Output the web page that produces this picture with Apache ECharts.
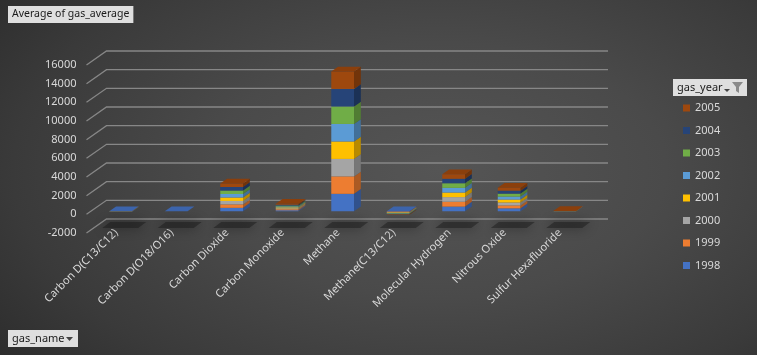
<!DOCTYPE html>
<html>
<head>
<meta charset="utf-8">
<script src="https://cdn.jsdelivr.net/npm/echarts@6/dist/echarts.min.js"></script>
<style>
  html, body { margin: 0; padding: 0; }
  #chart {
    width: 757px;
    height: 355px;
    background: radial-gradient(ellipse 75% 90% at 58% 48%, #555555 0%, #4a4a4a 40%, #3a3a3a 75%, #2b2b2b 100%);
  }
</style>
</head>
<body>
<div id="chart"></div>
<script>
var gasNames = ['Carbon D(C13/C12)', 'Carbon D(O18/O16)', 'Carbon Dioxide', 'Carbon Monoxide', 'Methane',
  'Methane(C13/C12)', 'Molecular Hydrogen', 'Nitrous Oxide', 'Sulfur Hexafluoride'];
var gasYears = ['1998', '1999', '2000', '2001', '2002', '2003', '2004', '2005'];
var yTicks = [-2000, 0, 2000, 4000, 6000, 8000, 10000, 12000, 14000, 16000];

// average per gas, one array per year (same order as gasNames)
var avg1998 = [-7.9, -1.1, 366, 110, 1865, -47.1, 500, 312, 4.1];
var avg1999 = [-7.95, -1.0, 368, 105, 1870, -47.1, 520, 313, 4.3];
var avg2000 = [-8.0, -0.9, 369, 100, 1870, -47.2, 495, 314, 4.5];
var avg2001 = [-8.0, -1.2, 371, 100, 1872, -47.2, 490, 316, 4.7];
var avg2002 = [-8.05, -0.8, 373, 95, 1875, -47.2, 500, 317, 4.9];
var avg2003 = [-8.1, -1.0, 375, 100, 1872, -47.3, 495, 318, 5.2];
var avg2004 = [-8.1, -0.9, 377, 95, 1880, -47.3, 480, 319, 5.4];
var avg2005 = [-8.15, -1.1, 379, 95, 1875, -47.3, 485, 320, 5.6];

var yearColors = ['#4472C4', '#ED7D31', '#A5A5A5', '#FFC000', '#5B9BD5', '#70AD47', '#264478', '#9E480E'];
var yearValues = [avg1998, avg1999, avg2000, avg2001, avg2002, avg2003, avg2004, avg2005];

// 3D look: how far the back wall sits from the front plane
var DEPTH_X = 20, DEPTH_Y = -14;

function shade(hex, f) {
  var n = parseInt(hex.slice(1), 16);
  var r = Math.min(255, Math.round(((n >> 16) & 255) * f));
  var g = Math.min(255, Math.round(((n >> 8) & 255) * f));
  var b = Math.min(255, Math.round((n & 255) * f));
  return 'rgb(' + r + ',' + g + ',' + b + ')';
}

// stack positives upward and negatives downward, like Excel does
var posBase = gasNames.map(function () { return 0; });
var negBase = gasNames.map(function () { return 0; });
var stacked = yearValues.map(function (vals) {
  return vals.map(function (v, i) {
    var lo, hi;
    if (v >= 0) { lo = posBase[i]; hi = lo + v; posBase[i] = hi; }
    else { hi = negBase[i]; lo = hi + v; negBase[i] = lo; }
    return [i, lo, hi, 0];
  });
});
gasNames.forEach(function (n, i) {
  var k;
  if (posBase[i] > 0) {
    for (k = yearValues.length - 1; k >= 0; k--) if (yearValues[k][i] > 0) break;
  } else {
    for (k = 0; k < yearValues.length; k++) if (yearValues[k][i] < 0) break;
  }
  if (k >= 0 && k < yearValues.length) stacked[k][i][3] = 1;
});

function renderBar(params, api) {
  var cat = api.value(0), lo = api.value(1), hi = api.value(2), isTop = api.value(3);
  var band = api.size([1, 0])[0];
  var pLo = api.coord([cat, lo]), pHi = api.coord([cat, hi]);
  var w = band * 0.41;
  var ox = DEPTH_X * 0.22, oy = DEPTH_Y * 0.22;
  var dx = DEPTH_X * 0.34, dy = DEPTH_Y * 0.34;
  var x0 = pLo[0] - w / 2 + ox, x1 = x0 + w;
  var yb = pLo[1] + oy, yt = pHi[1] + oy;
  var c = yearColors[params.seriesIndex - 2];
  var kids = [
    { type: 'rect', shape: { x: x0, y: yt, width: w, height: yb - yt }, style: { fill: c } },
    { type: 'polygon', shape: { points: [[x1, yt], [x1 + dx, yt + dy], [x1 + dx, yb + dy], [x1, yb]] },
      style: { fill: shade(c, 0.72) } }
  ];
  if (isTop) {
    kids.push({ type: 'polygon', shape: { points: [[x0, yt], [x0 + dx, yt + dy], [x1 + dx, yt + dy], [x1, yt]] },
      style: { fill: shade(c, 0.88) } });
  }
  return { type: 'group', children: kids };
}

function renderGrid(params, api) {
  var v = api.value(0);
  var band = api.size([1, 0])[0];
  var pL = api.coord([0, v]), pR = api.coord([gasNames.length - 1, v]);
  var xl = pL[0] - band / 2 - 2, xr = pR[0] + band / 2;
  return {
    type: 'polyline',
    shape: { points: [[xl, pL[1]], [xl + DEPTH_X, pL[1] + DEPTH_Y], [xr + DEPTH_X, pL[1] + DEPTH_Y]] },
    style: { stroke: '#878787', lineWidth: 1.3, fill: null }
  };
}

function renderShadow(params, api) {
  var p = api.coord([api.value(0), yTicks[0]]);
  var cx = p[0], yb = p[1];
  return {
    type: 'polygon',
    shape: { points: [[cx - 6, yb - 11], [cx + 30, yb - 11], [cx + 22, yb - 5], [cx - 14, yb - 5]] },
    style: { fill: 'rgba(22,22,22,0.45)', shadowBlur: 12, shadowColor: 'rgba(0,0,0,0.9)' }
  };
}

var series = [
  {
    type: 'custom', name: 'grid', renderItem: renderGrid, silent: true, z: 1,
    data: yTicks.map(function (v) { return [v]; }), encode: { y: 0 }
  },
  {
    type: 'custom', name: 'shadow', renderItem: renderShadow, silent: true, z: 1,
    data: gasNames.map(function (n, i) { return [i]; }), encode: { x: 0 }
  }
];
gasYears.forEach(function (y, k) {
  series.push({
    type: 'custom',
    name: y,
    renderItem: renderBar,
    itemStyle: { color: yearColors[k] },
    encode: { x: 0, y: [1, 2] },
    z: 3,
    data: stacked[k]
  });
});

var chart = echarts.init(document.getElementById('chart'));
chart.setOption({
  backgroundColor: 'transparent',
  animation: false,
  textStyle: { fontFamily: 'Noto Sans' },
  title: {
    text: 'Average of gas_average',
    left: 8, top: 6,
    backgroundColor: '#dfdfdf',
    padding: [2, 4],
    textStyle: { fontSize: 10.5, fontWeight: 'normal', color: '#1a1a1a', lineHeight: 13, fontFamily: 'Noto Sans' }
  },
  legend: {
    orient: 'vertical',
    left: 678, top: 96,
    icon: 'rect',
    itemWidth: 7, itemHeight: 7, itemGap: 8.5,
    data: gasYears.slice().reverse(),
    textStyle: { color: '#d9d9d9', fontSize: 11, lineHeight: 14, fontFamily: 'Noto Sans' },
    selectedMode: false
  },
  grid: { left: 88.5, width: 499.5, top: 65, height: 168 },
  xAxis: {
    type: 'category',
    data: gasNames,
    axisLine: { show: false },
    axisTick: { show: false },
    axisLabel: { rotate: 45, margin: -2, color: '#d9d9d9', fontSize: 11, interval: 0, fontFamily: 'Noto Sans' }
  },
  yAxis: {
    type: 'value',
    min: -2000, max: 16000, interval: 2000,
    axisLine: { show: false },
    axisTick: { show: false },
    splitLine: { show: false },
    axisLabel: {
      margin: 12, color: '#d9d9d9', fontSize: 11, fontFamily: 'Noto Sans',
      formatter: function (v) { return String(v); }
    }
  },
  graphic: [
    {
      type: 'group', left: 673, top: 79,
      children: [
        { type: 'rect', shape: { x: 0, y: 0, width: 74, height: 17 }, style: { fill: '#dfdfdf' } },
        { type: 'text', x: 4, y: 8.5, style: { text: 'gas_year', fill: '#1a1a1a', font: '11px "Noto Sans"', verticalAlign: 'middle' } },
        { type: 'polygon', shape: { points: [[51, 10], [57, 10], [54, 13]] }, style: { fill: '#444' } },
        { type: 'polygon', shape: { points: [[59, 3], [70, 3], [66, 8], [66, 14], [63, 12], [63, 8]] }, style: { fill: '#8a8a8a' } }
      ]
    },
    {
      type: 'group', left: 8, top: 330,
      children: [
        { type: 'rect', shape: { x: 0, y: 0, width: 70, height: 17 }, style: { fill: '#dfdfdf' } },
        { type: 'text', x: 4, y: 8.5, style: { text: 'gas_name', fill: '#1a1a1a', font: '11px "Noto Sans"', verticalAlign: 'middle' } },
        { type: 'polygon', shape: { points: [[58, 7], [65, 7], [61.5, 11]] }, style: { fill: '#444' } }
      ]
    }
  ],
  series: series
});
</script>
</body>
</html>
